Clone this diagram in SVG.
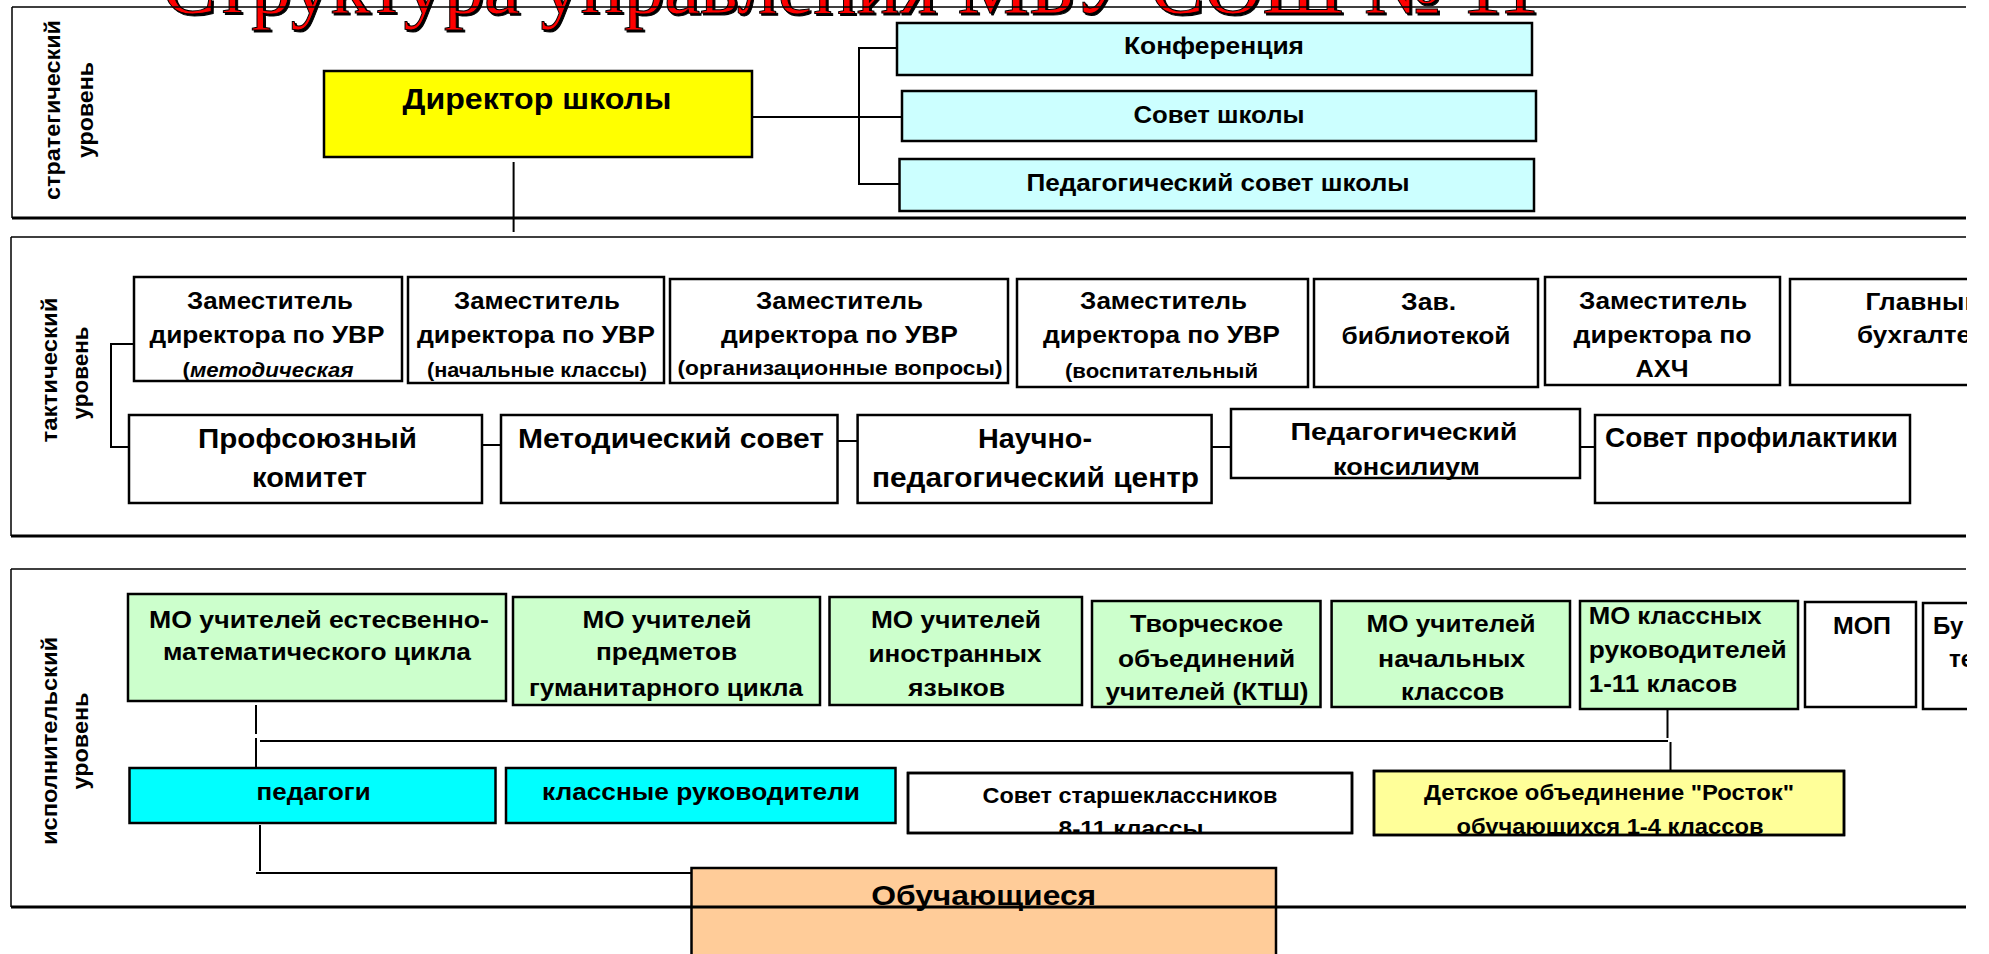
<svg xmlns="http://www.w3.org/2000/svg" width="1989" height="954" viewBox="0 0 1989 954">
<defs>
<style>
.bx{stroke:#000;stroke-width:2.5}
.w{fill:#fff}
.cy{fill:#CCFFFF}
.gr{fill:#CCFFCC}
.c{stroke:#000;stroke-width:2;fill:none}
.pl{stroke:#000;fill:none}
.t{font-family:"Liberation Sans",Arial,sans-serif;font-weight:bold;fill:#000;text-anchor:middle;font-size:24px}
.s{font-size:20px}
.l{font-size:28px}
.st{text-anchor:start}
.v{font-family:"Liberation Sans",Arial,sans-serif;font-weight:bold;font-size:22px;fill:#000;text-anchor:middle}
.title{font-family:"Liberation Serif","Times New Roman",serif;font-size:80px;fill:#FF0000;stroke:#000;stroke-width:1}
</style>
<filter id="sh" x="-5%" y="-50%" width="110%" height="200%"><feDropShadow dx="2" dy="2" stdDeviation="0" flood-color="#000" flood-opacity="1"/></filter>
<clipPath id="page"><rect x="0" y="0" width="1967" height="954"/></clipPath>
<clipPath id="cl-sss"><rect x="908" y="773" width="444" height="60"/></clipPath>
<clipPath id="cl-det"><rect x="1374" y="771" width="470" height="64"/></clipPath>
</defs>
<rect x="0" y="0" width="1989" height="954" fill="#fff"/>
<g clip-path="url(#page)">
<text id="title" class="title" x="162" y="13" textLength="1377" lengthAdjust="spacingAndGlyphs" filter="url(#sh)">Структура управления МБУ СОШ № 11</text>

<g id="connectors">
<path class="c" d="M752,117 H859 M897,48 H859 V184 H899.5 M859,117 H902"/>
<path class="c" d="M513.6,162 V232"/>
<path class="c" d="M134,344 H111 V447 H129"/>
<path class="c" d="M482,445 H501 M837.5,441 H858 M1212,447 H1231 M1580,447 H1595"/>
<path class="c" d="M256,705 V734 M256,738 V767 M260,741 H1668 M1667.5,710 V738 M1670.5,742 V771"/>
<path class="c" d="M260,825 V871 M256,873 H694"/>
</g>

<g id="director"><rect class="bx" x="324" y="71" width="428" height="86" fill="#FFFF00"/>
<text class="t" x="537" y="109" style="font-size:30px" textLength="269" lengthAdjust="spacingAndGlyphs">Директор школы</text></g>
<g id="konferenciya"><rect class="bx cy" x="897" y="23" width="635" height="52"/>
<text class="t" x="1214" y="54" textLength="180" lengthAdjust="spacingAndGlyphs">Конференция</text></g>
<g id="sovet-shkoly"><rect class="bx cy" x="902" y="91" width="634" height="50"/>
<text class="t" x="1219" y="123" textLength="171" lengthAdjust="spacingAndGlyphs">Совет школы</text></g>
<g id="pedsovet"><rect class="bx cy" x="899.5" y="159" width="634.5" height="52"/>
<text class="t" x="1218" y="191" textLength="383" lengthAdjust="spacingAndGlyphs">Педагогический совет школы</text></g>

<g id="zam-metod"><rect class="bx w" x="134" y="277" width="268" height="104"/>
<text class="t" x="270" y="309" textLength="166" lengthAdjust="spacingAndGlyphs">Заместитель</text>
<text class="t" x="267" y="343" textLength="235" lengthAdjust="spacingAndGlyphs">директора по УВР</text>
<text class="t s" x="268" y="377" textLength="171" lengthAdjust="spacingAndGlyphs">(<tspan font-style="italic">методическая</tspan></text></g>
<g id="zam-nach"><rect class="bx w" x="408" y="277" width="256" height="106"/>
<text class="t" x="537" y="309" textLength="166" lengthAdjust="spacingAndGlyphs">Заместитель</text>
<text class="t" x="536" y="343" textLength="238" lengthAdjust="spacingAndGlyphs">директора по УВР</text>
<text class="t s" x="537" y="377" textLength="220" lengthAdjust="spacingAndGlyphs">(начальные классы)</text></g>
<g id="zam-org"><rect class="bx w" x="670" y="279" width="338" height="104"/>
<text class="t" x="839.5" y="309" textLength="167" lengthAdjust="spacingAndGlyphs">Заместитель</text>
<text class="t" x="839.5" y="343" textLength="237" lengthAdjust="spacingAndGlyphs">директора по УВР</text>
<text class="t s" x="840" y="375" textLength="325" lengthAdjust="spacingAndGlyphs">(организационные вопросы)</text></g>
<g id="zam-vosp"><rect class="bx w" x="1017" y="279" width="291" height="108"/>
<text class="t" x="1163.6" y="309" textLength="167" lengthAdjust="spacingAndGlyphs">Заместитель</text>
<text class="t" x="1161.5" y="343" textLength="237" lengthAdjust="spacingAndGlyphs">директора по УВР</text>
<text class="t s" x="1161.5" y="378" textLength="193" lengthAdjust="spacingAndGlyphs">(воспитательный</text></g>
<g id="biblioteka"><rect class="bx w" x="1314" y="279" width="224" height="108"/>
<text class="t" x="1428.6" y="310" textLength="55" lengthAdjust="spacingAndGlyphs">Зав.</text>
<text class="t" x="1426" y="344" textLength="169" lengthAdjust="spacingAndGlyphs">библиотекой</text></g>
<g id="zam-ahch"><rect class="bx w" x="1545" y="277" width="235" height="108"/>
<text class="t" x="1663" y="309" textLength="168" lengthAdjust="spacingAndGlyphs">Заместитель</text>
<text class="t" x="1662.6" y="343" textLength="178" lengthAdjust="spacingAndGlyphs">директора по</text>
<text class="t" x="1662" y="377" textLength="53" lengthAdjust="spacingAndGlyphs">АХЧ</text></g>
<g id="buhgalter"><rect class="bx w" x="1790" y="279" width="300" height="106"/>
<text class="t" x="1923" y="310" textLength="115" lengthAdjust="spacingAndGlyphs">Главный</text>
<text class="t" x="1922" y="343" textLength="130" lengthAdjust="spacingAndGlyphs">бухгалтер</text></g>

<g id="profkom"><rect class="bx w" x="129" y="415" width="353" height="88"/>
<text class="t l" x="307.5" y="448" textLength="219" lengthAdjust="spacingAndGlyphs">Профсоюзный</text>
<text class="t l" x="309.6" y="487" textLength="115" lengthAdjust="spacingAndGlyphs">комитет</text></g>
<g id="metodsovet"><rect class="bx w" x="501" y="415" width="336.5" height="88"/>
<text class="t l" x="671" y="448" textLength="306" lengthAdjust="spacingAndGlyphs">Методический совет</text></g>
<g id="npc"><rect class="bx w" x="857.6" y="415" width="354" height="88"/>
<text class="t l" x="1035" y="448" textLength="114" lengthAdjust="spacingAndGlyphs">Научно-</text>
<text class="t l" x="1035.5" y="487" textLength="327" lengthAdjust="spacingAndGlyphs">педагогический центр</text></g>
<g id="konsilium"><rect class="bx w" x="1231" y="409" width="349" height="69"/>
<text class="t" x="1404" y="440" textLength="227" lengthAdjust="spacingAndGlyphs">Педагогический</text>
<text class="t" x="1406.5" y="475" textLength="147" lengthAdjust="spacingAndGlyphs">консилиум</text></g>
<g id="profilaktika"><rect class="bx w" x="1595" y="415" width="315" height="88"/>
<text class="t l st" x="1605" y="447" textLength="293" lengthAdjust="spacingAndGlyphs">Совет профилактики</text></g>

<g id="mo-estmat"><rect class="bx gr" x="128" y="594" width="378" height="107"/>
<text class="t" x="319" y="628" textLength="340" lengthAdjust="spacingAndGlyphs">МО учителей естесвенно-</text>
<text class="t" x="317" y="660" textLength="308" lengthAdjust="spacingAndGlyphs">математического цикла</text></g>
<g id="mo-gum"><rect class="bx gr" x="513" y="597" width="307" height="108"/>
<text class="t" x="667" y="628" textLength="169" lengthAdjust="spacingAndGlyphs">МО учителей</text>
<text class="t" x="666.5" y="660" textLength="141" lengthAdjust="spacingAndGlyphs">предметов</text>
<text class="t" x="666" y="696" textLength="274" lengthAdjust="spacingAndGlyphs">гуманитарного цикла</text></g>
<g id="mo-inyaz"><rect class="bx gr" x="829.5" y="597" width="252.5" height="108"/>
<text class="t" x="956" y="628" textLength="170" lengthAdjust="spacingAndGlyphs">МО учителей</text>
<text class="t" x="955" y="662" textLength="173" lengthAdjust="spacingAndGlyphs">иностранных</text>
<text class="t" x="956.5" y="696" textLength="97" lengthAdjust="spacingAndGlyphs">языков</text></g>
<g id="kts"><rect class="bx gr" x="1092" y="601" width="228.5" height="106"/>
<text class="t" x="1206.6" y="632" textLength="153" lengthAdjust="spacingAndGlyphs">Творческое</text>
<text class="t" x="1206.6" y="667" textLength="177" lengthAdjust="spacingAndGlyphs">объединений</text>
<text class="t" x="1207" y="700" textLength="203" lengthAdjust="spacingAndGlyphs">учителей (КТШ)</text></g>
<g id="mo-nach"><rect class="bx gr" x="1331.6" y="601" width="238.4" height="106"/>
<text class="t" x="1451" y="632" textLength="169" lengthAdjust="spacingAndGlyphs">МО учителей</text>
<text class="t" x="1451.6" y="667" textLength="147" lengthAdjust="spacingAndGlyphs">начальных</text>
<text class="t" x="1452.6" y="700" textLength="103" lengthAdjust="spacingAndGlyphs">классов</text></g>
<g id="mo-klruk"><rect class="bx gr" x="1580" y="601" width="218" height="108"/>
<text class="t st" x="1588.7" y="624" textLength="173" lengthAdjust="spacingAndGlyphs">МО классных</text>
<text class="t st" x="1588.7" y="658" textLength="198" lengthAdjust="spacingAndGlyphs">руководителей</text>
<text class="t st" x="1588.7" y="692" textLength="148.5" lengthAdjust="spacingAndGlyphs">1-11 класов</text></g>
<g id="mop"><rect class="bx w" x="1805" y="602" width="111" height="105"/>
<text class="t" x="1862" y="634" textLength="58" lengthAdjust="spacingAndGlyphs">МОП</text></g>
<g id="bu"><rect class="bx w" x="1923" y="603" width="100" height="106"/>
<text class="t st" x="1933" y="634">Бу</text>
<text class="t st" x="1949" y="667">те</text></g>

<g id="pedagogi"><rect class="bx" x="129.5" y="768" width="366" height="55" fill="#00FFFF"/>
<text class="t" x="313.6" y="800" textLength="114" lengthAdjust="spacingAndGlyphs">педагоги</text></g>
<g id="klassnye"><rect class="bx" x="506" y="768" width="389.5" height="55" fill="#00FFFF"/>
<text class="t" x="701" y="800" textLength="318" lengthAdjust="spacingAndGlyphs">классные руководители</text></g>
<g id="sovet-starsh"><rect class="bx w" x="908" y="773" width="444" height="60"/>
<g clip-path="url(#cl-sss)">
<text class="t" x="1130" y="803" style="font-size:22px" textLength="295" lengthAdjust="spacingAndGlyphs">Совет старшеклассников</text>
<text class="t" x="1131" y="836" style="font-size:22px" textLength="145" lengthAdjust="spacingAndGlyphs">8-11 классы</text></g>
<rect x="908" y="773" width="444" height="60" fill="none" stroke="#000" stroke-width="2.5"/></g>
<g id="rostok"><rect class="bx" x="1374" y="771" width="470" height="64" fill="#FFFF99"/>
<g clip-path="url(#cl-det)">
<text class="t" x="1609" y="800" style="font-size:22px" textLength="370" lengthAdjust="spacingAndGlyphs">Детское объединение "Росток"</text>
<text class="t" x="1610" y="834" style="font-size:22px" textLength="307" lengthAdjust="spacingAndGlyphs">обучающихся 1-4 классов</text></g>
<rect x="1374" y="771" width="470" height="64" fill="none" stroke="#000" stroke-width="2.5"/></g>
<g id="obuchayushchiesya"><rect class="bx" x="691.5" y="868" width="584.5" height="100" fill="#FFCC99"/>
<text class="t l" x="983.7" y="905" textLength="225" lengthAdjust="spacingAndGlyphs">Обучающиеся</text></g>

<g id="panels">
<path class="pl" stroke-width="1.5" d="M12,7 H1966 M12,7 V218 M11,237 H1966 M11,237 V536 M11,569 H1966 M11,569 V907"/>
<path class="pl" stroke-width="3" d="M12,218 H1966 M11,536 H1966 M11,907 H1966"/>
<text class="v" transform="translate(60,110) rotate(-90)" textLength="180" lengthAdjust="spacingAndGlyphs">стратегический</text>
<text class="v" transform="translate(93,110) rotate(-90)" textLength="96" lengthAdjust="spacingAndGlyphs">уровень</text>
<text class="v" transform="translate(57,370) rotate(-90)" textLength="145" lengthAdjust="spacingAndGlyphs">тактический</text>
<text class="v" transform="translate(88,373) rotate(-90)" textLength="93" lengthAdjust="spacingAndGlyphs">уровень</text>
<text class="v" transform="translate(57,741) rotate(-90)" textLength="208" lengthAdjust="spacingAndGlyphs">исполнительский</text>
<text class="v" transform="translate(88,741) rotate(-90)" textLength="97" lengthAdjust="spacingAndGlyphs">уровень</text>
</g>
</g>
</svg>
